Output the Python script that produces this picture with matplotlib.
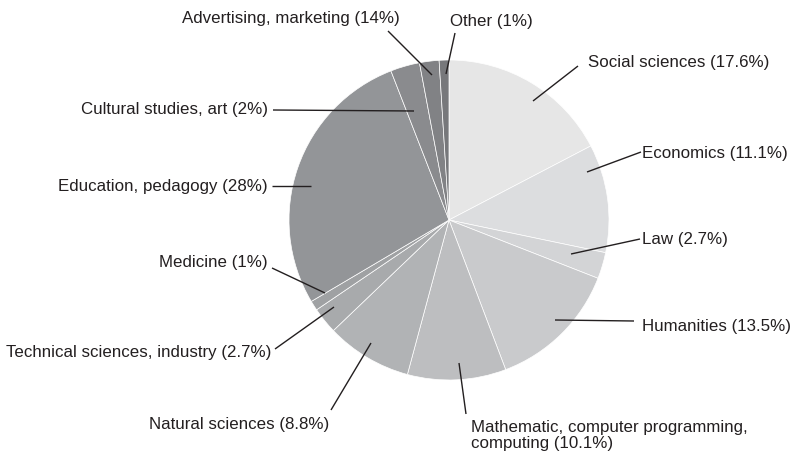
import matplotlib
matplotlib.use("Agg")
import matplotlib.pyplot as plt
import numpy as np

# ---- data ----
labels = [
    "Social sciences (17.6%)",
    "Economics (11.1%)",
    "Law (2.7%)",
    "Humanities (13.5%)",
    "Mathematic, computer programming,\ncomputing (10.1%)",
    "Natural sciences (8.8%)",
    "Technical sciences, industry (2.7%)",
    "Medicine (1%)",
    "Education, pedagogy (28%)",
    "Cultural studies, art (2%)",
    "Advertising, marketing (14%)",
    "Other (1%)",
]
values = [17.6, 11.1, 2.7, 13.5, 10.1, 8.8, 2.7, 1.0, 28.0, 3.0, 2.0, 1.0]
colors = ["#e6e6e6", "#dcdddf", "#d3d4d6", "#c9cacc", "#bdbec0", "#b1b3b5",
          "#a8aaac", "#9fa1a3", "#939598", "#8a8b8e", "#818285", "#77787b"]

# ---- layout (pixel coordinates, y from top) ----
W, H = 791, 461
CX, CY, R = 449, 220, 160
anchors = [(533, 101), (587, 172), (571, 254), (555, 320), (459, 363), (371, 343),
           (334, 307), (325, 293), (311, 186), (414, 111), (432, 75), (446, 74)]
line_ends = [(578, 66), (641, 152), (640, 239), (634, 321), (466, 414), (331, 410),
             (275, 349), (272, 268), (272, 186), (273, 110), (388, 31), (455, 33)]
text_pos = [(588, 62, "left"), (642, 153, "left"), (642, 239, "left"), (642, 327, "left"),
            (471, 420, "left"), (329, 425, "right"), (271, 353, "right"), (268, 263, "right"),
            (268, 186, "right"), (268, 109, "right"), (400, 18, "right"), (450, 21, "left")]

plt.rcParams["font.family"] = ["Liberation Sans", "DejaVu Sans"]
fig = plt.figure(figsize=(W / 100, H / 100), dpi=100)
ax = fig.add_axes([0, 0, 1, 1])
ax.pie(values, colors=colors, startangle=90, counterclock=False,
       center=(CX, H - CY), radius=R,
       wedgeprops=dict(edgecolor="white", linewidth=0.5))
ax.set_xlim(0, W)
ax.set_ylim(0, H)
ax.set_aspect("equal")
ax.axis("off")

tc = "#231f20"
for lab, a, e, (tx, ty, ha) in zip(labels, anchors, line_ends, text_pos):
    ax.plot([a[0], e[0]], [H - a[1], H - e[1]], color=tc, lw=1.0, solid_capstyle="butt")
    ax.text(tx, H - ty, lab, ha=ha, va="center" if "\n" not in lab else "top",
            fontsize=12.2, color=tc, linespacing=1.1)

fig.savefig("out.png", dpi=100)
